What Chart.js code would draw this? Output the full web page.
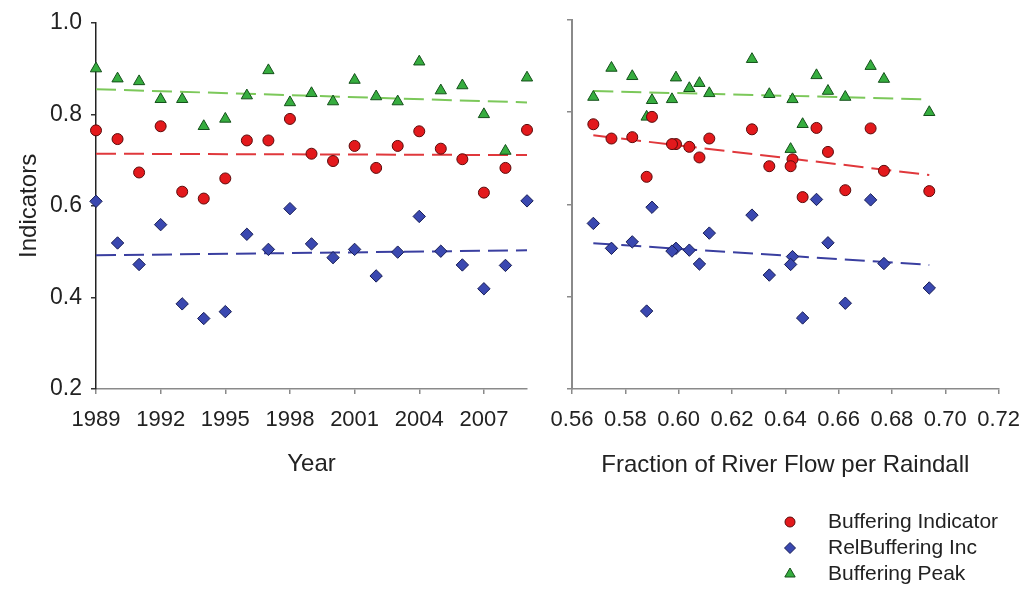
<!DOCTYPE html>
<html><head><meta charset="utf-8">
<script src="https://cdn.jsdelivr.net/npm/chart.js"></script>
<style>
html,body{margin:0;padding:0;background:#fff;}
#wrap{position:relative;width:1033px;height:591px;background:#fff;}
canvas{position:absolute;left:0;top:0;}
</style></head><body>
<div id="wrap"><canvas id="leftChart" width="1033" height="591"></canvas><canvas id="rightChart" width="1033" height="591"></canvas></div>
<script>
// ---- data ----
const YEARS = [1989,1990,1991,1992,1993,1994,1995,1996,1997,1998,1999,2000,2001,2002,2003,2004,2005,2006,2007,2008,2009];
const FRACTION = [0.672,0.5826,0.677,0.568,0.6625,0.6465,0.588,0.6115,0.5748,0.590,0.656,0.6427,0.599,0.634,0.5975,0.6275,0.604,0.6078,0.694,0.642,0.6517];
const BUFFERING_INDICATOR = [0.765,0.746,0.673,0.774,0.631,0.616,0.660,0.743,0.743,0.790,0.714,0.698,0.731,0.683,0.731,0.763,0.725,0.702,0.629,0.683,0.766];
const REL_BUFFERING_INC = [0.610,0.519,0.472,0.559,0.386,0.354,0.369,0.538,0.505,0.594,0.517,0.487,0.505,0.447,0.499,0.577,0.501,0.471,0.419,0.470,0.611];
const BUFFERING_PEAK = [0.900,0.878,0.872,0.833,0.833,0.774,0.790,0.841,0.896,0.826,0.846,0.828,0.875,0.839,0.828,0.915,0.852,0.863,0.800,0.720,0.880];

// trend lines (end points)
const TREND_YEAR_X = [1989, 2009];
const TREND_YEAR_INDICATOR = [0.714, 0.711];
const TREND_YEAR_REL = [0.492, 0.503];
const TREND_YEAR_PEAK = [0.855, 0.826];
const TREND_FRAC_X = [0.568, 0.694];
const TREND_FRAC_INDICATOR = [0.750, 0.664];
const TREND_FRAC_REL = [0.516, 0.469];
const TREND_FRAC_PEAK = [0.846, 0.828];

const Y_TICKS = [0.2, 0.4, 0.6, 0.8, 1.0];
const YEAR_TICKS = [1989, 1992, 1995, 1998, 2001, 2004, 2007];
const FRACTION_TICKS = [0.56, 0.58, 0.60, 0.62, 0.64, 0.66, 0.68, 0.70, 0.72];
const SERIES_LABELS = ['Buffering Indicator', 'RelBuffering Inc', 'Buffering Peak'];
const Y_TITLE = 'Indicators';
const X_TITLE_LEFT = 'Year';
const X_TITLE_RIGHT = 'Fraction of River Flow per Raindall';

// ---- styles ----
const FONT = '"Liberation Sans", Arial, Helvetica, sans-serif';
Chart.defaults.font.family = FONT;
Chart.defaults.color = '#222';

const STYLE = [
  {style:'circle',   radius:5.5, fill:'#e3191c', border:'#5a0a0a', trend:'#e0383c'},
  {style:'rectRot',  radius:6.2, fill:'#3a48b0', border:'#161c55', trend:'#3a3fa0'},
  {style:'triangle', radius:6.5, fill:'#36ad3f', border:'#14501a', trend:'#7cc85a'}
];

function pts(xs, ys){ return xs.map((x,i)=>({x:x, y:ys[i]})); }

function buildDatasets(xs, series, trendX, trends){
  const ds = [];
  series.forEach((ys, k) => {
    const s = STYLE[k];
    ds.push({
      type:'scatter', label:SERIES_LABELS[k], data:pts(xs, ys), inLegend:true,
      pointStyle:s.style, pointRadius:s.radius, pointHoverRadius:s.radius,
      backgroundColor:s.fill, borderColor:s.border, pointBorderWidth:1, borderWidth:1,
      clip:false, order:1
    });
  });
  trends.forEach((ys, k) => {
    const s = STYLE[k];
    ds.push({
      type:'line', label:SERIES_LABELS[k] + ' trend', data:pts(trendX, ys), inLegend:false,
      borderColor:s.trend, borderWidth:2, borderDash:[20,8], pointRadius:0, fill:false,
      tension:0, clip:false, order:2
    });
  });
  return ds;
}

function fixedTicks(list){ return function(scale){ scale.ticks = list.map(v=>({value:v})); }; }

const cornerLegend = {
  id:'cornerLegend',
  afterDraw(chart, args, opts){
    const ctx = chart.ctx;
    const items = chart.data.datasets.filter(d=>d.inLegend);
    ctx.save();
    items.forEach((d,i)=>{
      const y = opts.y + i*opts.gap;
      ctx.fillStyle = d.backgroundColor; ctx.strokeStyle = d.borderColor; ctx.lineWidth = 1;
      const r = opts.radius[i];
      if (Chart.helpers && Chart.helpers.drawPoint) {
        Chart.helpers.drawPoint(ctx, {pointStyle:d.pointStyle, radius:r, borderWidth:1, rotation:0}, opts.markerX, y);
      }
      ctx.fillStyle = '#222';
      ctx.font = opts.fontSize + 'px ' + FONT;
      ctx.textBaseline = 'middle'; ctx.textAlign = 'left';
      ctx.fillText(d.label, opts.textX, y);
    });
    ctx.restore();
  }
};

const tickFont = {size:22};

new Chart(document.getElementById('leftChart'), {
  type:'scatter',
  data:{datasets:buildDatasets(YEARS, [BUFFERING_INDICATOR, REL_BUFFERING_INC, BUFFERING_PEAK], TREND_YEAR_X, [TREND_YEAR_INDICATOR, TREND_YEAR_REL, TREND_YEAR_PEAK])},
  options:{
    responsive:false, animation:false, events:[],
    layout:{padding:{left:0, top:20, right:506, bottom:112.6}},
    plugins:{legend:{display:false}, tooltip:{enabled:false}},
    scales:{
      x:{type:'linear', min:1989, max:2009, afterBuildTicks:fixedTicks(YEAR_TICKS),
         ticks:{font:tickFont, color:'#222', padding:13, maxRotation:0, autoSkip:false, callback:v=>String(v)},
         grid:{drawOnChartArea:false, drawTicks:true, tickLength:5, color:'#8a8a8a', lineWidth:1.5},
         border:{display:true, color:'#8a8a8a', width:1.5},
         title:{display:true, text:X_TITLE_LEFT, font:{size:24}, color:'#222', padding:{top:0,bottom:0}},
         afterFit:s=>{s.height=89.4;}},
      y:{type:'linear', min:0.2, max:1.0, afterBuildTicks:fixedTicks(Y_TICKS),
         ticks:{font:{size:23}, color:'#222', padding:9, callback:v=>Number(v).toFixed(1)},
         grid:{drawOnChartArea:false, drawTicks:true, tickLength:5, color:'#333', lineWidth:1.5},
         border:{display:true, color:'#222', width:1.5},
         title:{display:true, text:Y_TITLE, font:{size:24}, color:'#222', padding:{top:14.6,bottom:0}},
         afterFit:s=>{s.width=96;}}
    }
  }
});

new Chart(document.getElementById('rightChart'), {
  type:'scatter',
  data:{datasets:buildDatasets(FRACTION, [BUFFERING_INDICATOR, REL_BUFFERING_INC, BUFFERING_PEAK], TREND_FRAC_X, [TREND_FRAC_INDICATOR, TREND_FRAC_REL, TREND_FRAC_PEAK])},
  options:{
    responsive:false, animation:false, events:[],
    layout:{padding:{left:562, top:20, right:30, bottom:111.6}},
    plugins:{legend:{display:false}, tooltip:{enabled:false},
      cornerLegend:{markerX:790, textX:828, y:522, gap:26, fontSize:21, radius:[5,5.5,6]}},
    scales:{
      x:{type:'linear', min:0.56, max:0.72, afterBuildTicks:fixedTicks(FRACTION_TICKS),
         ticks:{font:tickFont, color:'#222', padding:13, maxRotation:0, autoSkip:false, callback:v=>Number(v).toFixed(2)},
         grid:{drawOnChartArea:false, drawTicks:true, tickLength:5, color:'#8a8a8a', lineWidth:1.5},
         border:{display:true, color:'#8a8a8a', width:1.5},
         title:{display:true, text:X_TITLE_RIGHT, font:{size:24}, color:'#222', padding:{top:0,bottom:0}},
         afterFit:s=>{s.height=90.4;}},
      y:{type:'linear', min:0.2, max:1.0, afterBuildTicks:fixedTicks(Y_TICKS),
         ticks:{display:false},
         grid:{drawOnChartArea:false, drawTicks:true, tickLength:5, color:'#8a8a8a', lineWidth:1.5},
         border:{display:true, color:'#8a8a8a', width:2},
         afterFit:s=>{s.width=10;}}
    }
  },
  plugins:[cornerLegend]
});
</script>
</body></html>
